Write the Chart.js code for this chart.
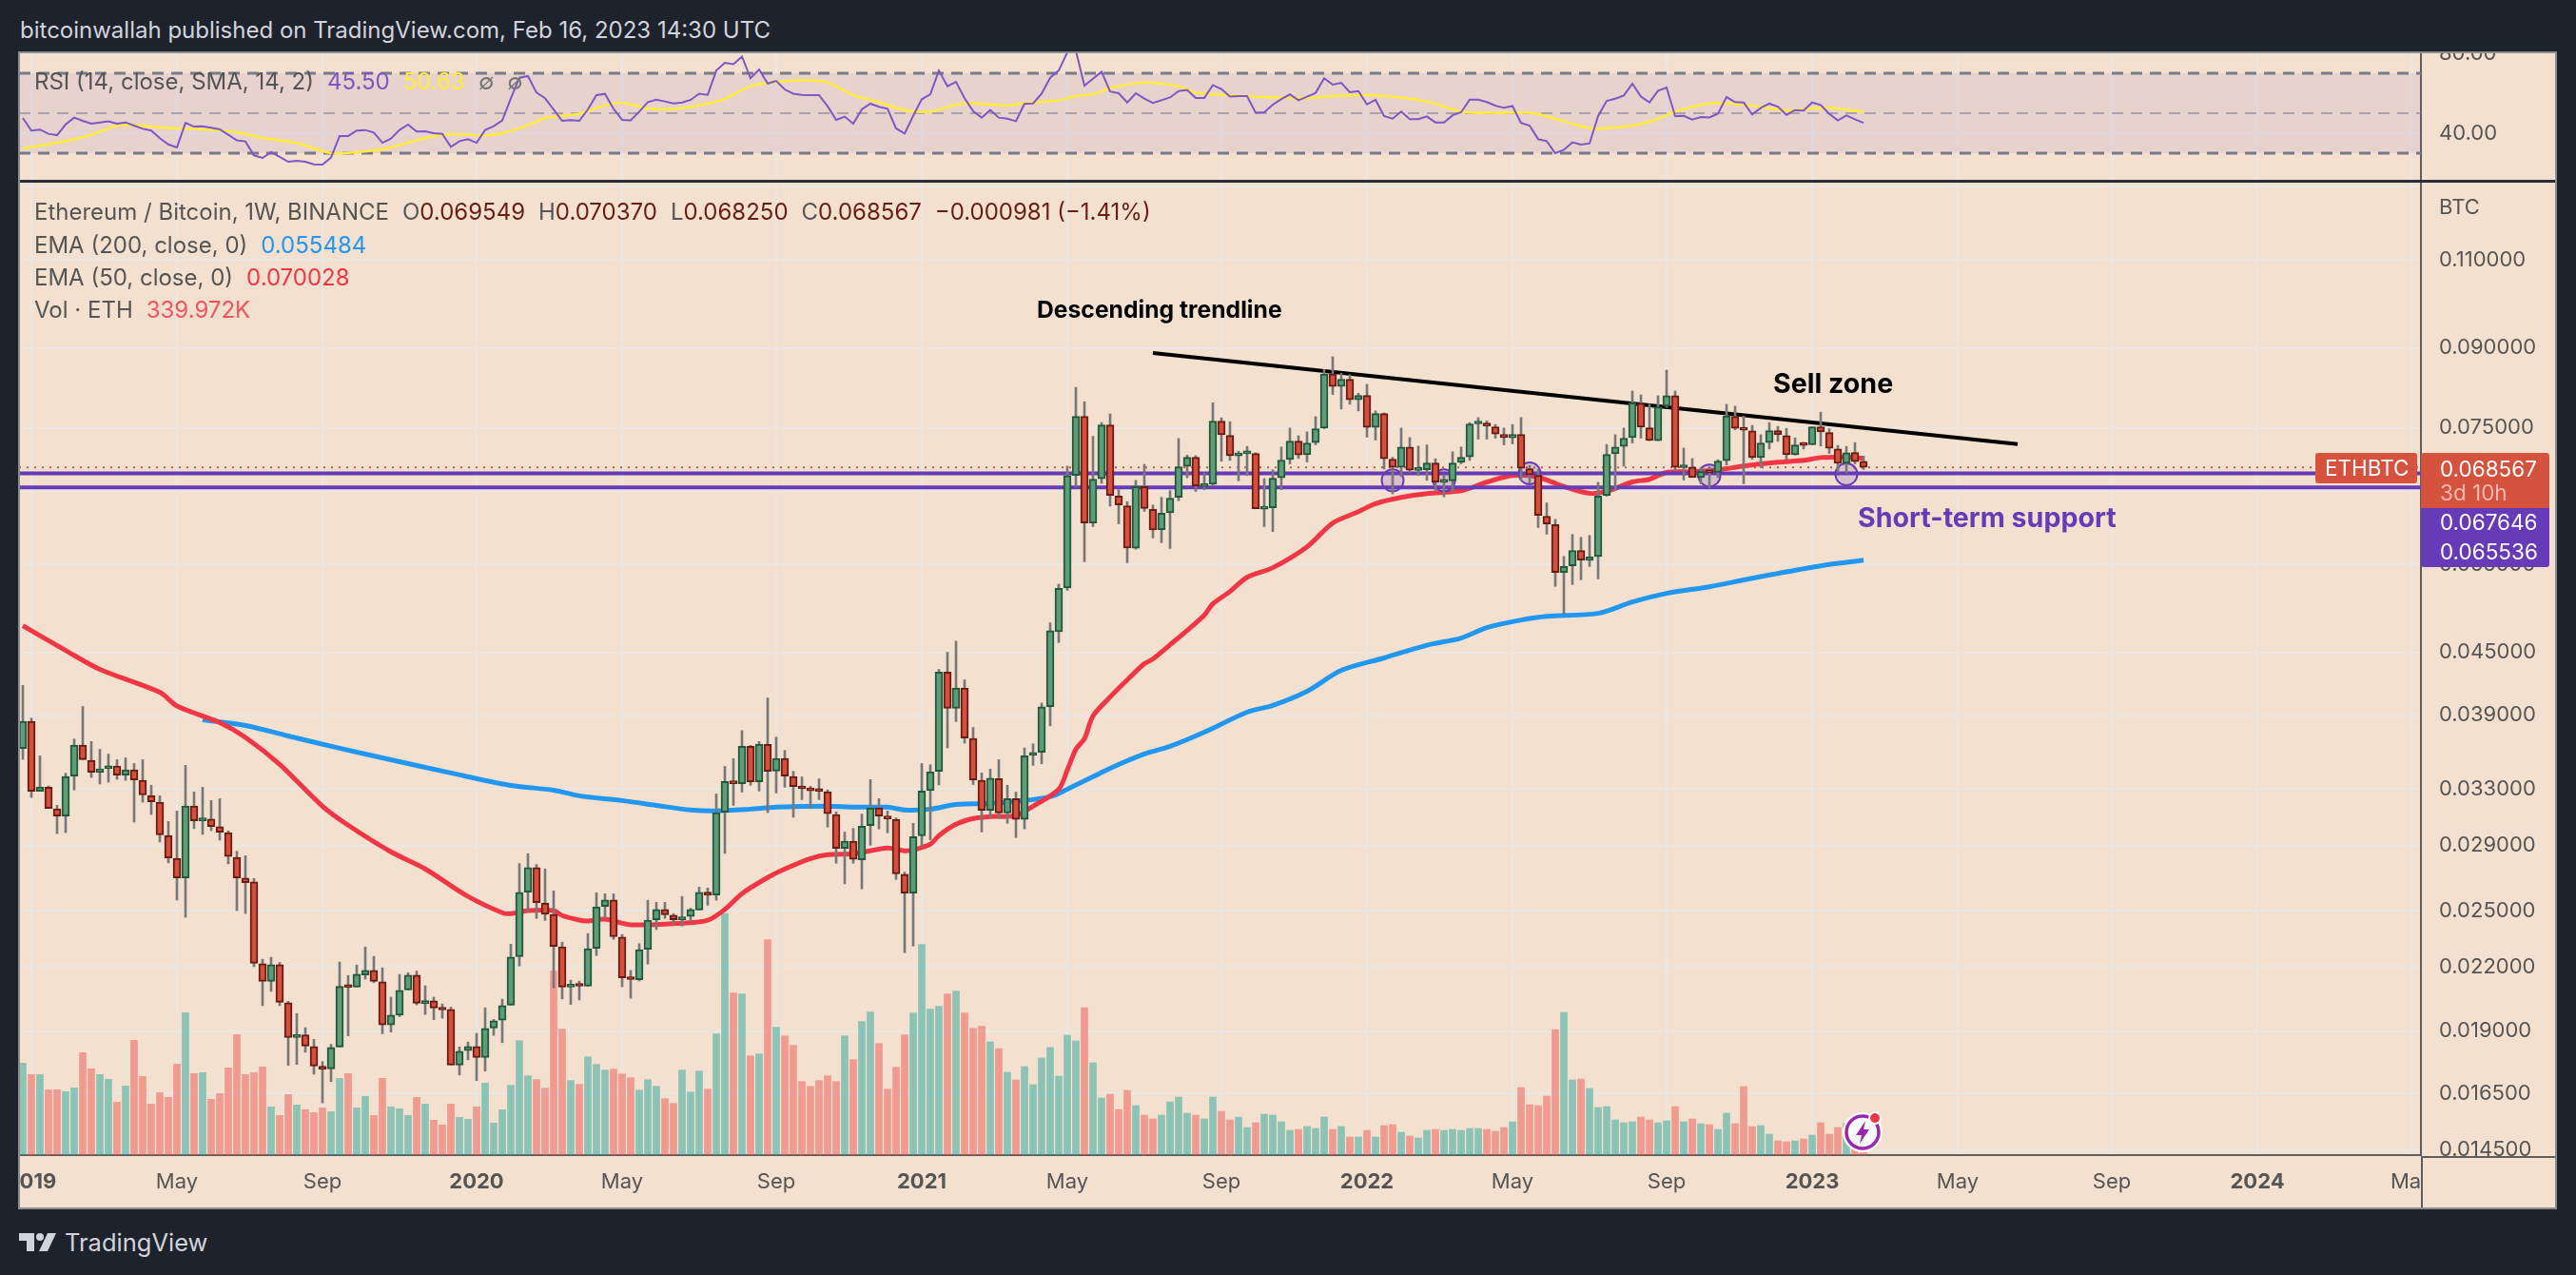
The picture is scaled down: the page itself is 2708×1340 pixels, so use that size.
<!DOCTYPE html>
<html>
<head>
<meta charset="utf-8">
<script src="https://cdn.jsdelivr.net/npm/chart.js@4"></script>
<style>
html, body { margin: 0; padding: 0; background: #1e222d; width: 2708px; height: 1340px; overflow: hidden; font-family: Inter, sans-serif; }
canvas { position: absolute; left: 20px; background: #f3e0cf; }
#rsiChart { top: 55px; }
#mainChart { top: 191px; }
.t { position: absolute; white-space: nowrap; line-height: 1; transform: translateY(-50%); }
.leg { font-size: 24px; color: #555; }
.leg span { margin-left: 14px; }
.frame { position: absolute; left: 19px; top: 54px; width: 2669px; height: 1217px; box-sizing: border-box; border: 2px solid #8c8c8c; pointer-events: none; }
.sep { position: absolute; left: 20px; top: 189px; width: 2667px; height: 3px; background: #2a2e39; }
.corner { position: absolute; left: 2545px; top: 1215px; width: 142px; height: 55px; background: #f3e0cf; border-left: 2px solid #5d5d5d; border-top: 2px solid #5d5d5d; box-sizing: border-box; }
.badge { position: absolute; color: #fff; font-size: 22.5px; box-sizing: border-box; }
.badge div { position: absolute; left: 20px; line-height: 1; transform: translateY(-50%); white-space: nowrap; }
</style>
</head>
<body>
<canvas id="rsiChart" width="2667" height="136"></canvas>
<canvas id="mainChart" width="2667" height="1079"></canvas>
<div class="sep"></div>
<div class="corner"></div>
<div class="frame"></div>

<div class="t" style="left:21px;top:32px;font-size:24px;color:#d1d4dc">bitcoinwallah published on TradingView.com, Feb 16, 2023 14:30 UTC</div>

<div class="t leg" style="left:36px;top:86px">RSI (14, close, SMA, 14, 2)<span style="color:#7e57c2">45.50</span><span style="color:#ffeb3b">50.63</span><span style="color:#777">∅</span><span style="color:#777">∅</span></div>
<div class="t leg" style="left:36px;top:223px">Ethereum / Bitcoin, 1W, BINANCE<span>O<b style="font-weight:400;color:#6a1d17">0.069549</b></span><span>H<b style="font-weight:400;color:#6a1d17">0.070370</b></span><span>L<b style="font-weight:400;color:#6a1d17">0.068250</b></span><span>C<b style="font-weight:400;color:#6a1d17">0.068567</b></span><span style="color:#6a1d17">−0.000981 (−1.41%)</span></div>
<div class="t leg" style="left:36px;top:258px">EMA (200, close, 0)<span style="color:#2196f3">0.055484</span></div>
<div class="t leg" style="left:36px;top:292px">EMA (50, close, 0)<span style="color:#f23645">0.070028</span></div>
<div class="t leg" style="left:36px;top:326px">Vol · ETH<span style="color:#f7525f">339.972K</span></div>

<div class="t" style="left:1090px;top:325px;font-size:24.7px;font-weight:700;color:#000">Descending trendline</div>
<div class="t" style="left:1864px;top:403px;font-size:28.6px;font-weight:700;color:#000">Sell zone</div>
<div class="t" style="left:1953px;top:544px;font-size:28.6px;font-weight:700;color:#673ab7">Short-term support</div>

<div class="t" style="left:2564px;top:217px;font-size:22px;color:#555">BTC</div>

<div class="badge" style="left:2434px;top:476px;width:107px;height:32px;background:#d5523f;border-radius:3px"><div style="left:10px;top:16px">ETHBTC</div></div>
<div class="badge" style="left:2545px;top:476px;width:135px;height:58px;background:#d5523f;border-radius:3px 3px 0 0"><div style="top:17px">0.068567</div><div style="top:42px;color:#f2b9ae">3d 10h</div></div>
<div class="badge" style="left:2545px;top:534px;width:135px;height:31px;background:#673ab7"><div style="top:15px">0.067646</div></div>
<div class="badge" style="left:2545px;top:565px;width:135px;height:31px;background:#673ab7;border-radius:0 0 3px 3px"><div style="top:15px">0.065536</div></div>

<svg style="position:absolute;left:1936px;top:1166px" width="46" height="46" viewBox="0 0 46 46">
  <circle cx="22" cy="24" r="21" fill="#fff"/>
  <circle cx="22" cy="24" r="17" fill="none" stroke="#9c27b0" stroke-width="3.5"/>
  <path d="M25 12 L15 27 H21 L19 36 L29 21 H23 Z" fill="#9c27b0"/>
  <circle cx="35" cy="9" r="7" fill="#fff"/>
  <circle cx="35" cy="9" r="5" fill="#f23645"/>
</svg>

<svg style="position:absolute;left:20px;top:1294px" width="40" height="24" viewBox="0 0 40 24">
  <path d="M0 2 H16 V21 H8 V10 H0 Z" fill="#d1d4dc"/>
  <circle cx="22" cy="6" r="4" fill="#d1d4dc"/>
  <path d="M30 2 H39 L30 21 H21 Z" fill="#d1d4dc"/>
</svg>
<div class="t" style="left:68px;top:1306px;font-size:25.5px;color:#d1d4dc">TradingView</div>

<script>
// weekly bars, index 0 = first bar on the left (Jan 2019)
const opens = [
  .03616,.03847,.03280,.03311,.03152,.03101,.03396,.03644,.03520,.03425,
  .03455,.03475,.03403,.03445,.03364,.03249,.03200,.02967,.02817,.02694,
  .03173,.03068,.03079,.03026,.02986,.02823,.02692,.02669,.02216,.02128,
  .02211,.02027,.01873,.01884,.01835,.01754,.01744,.01833,.02105,.02101,
  .02160,.02182,.02126,.01927,.01971,.02087,.02159,.02023,.02036,.02001,
  .01997,.01759,.01818,.01835,.01790,.01914,.01948,.02016,.02251,.02608,
  .02757,.02544,.02479,.02303,.02101,.02114,.02105,.02295,.02524,.02561,
  .02354,.02146,.02136,.02290,.02449,.02507,.02474,.02449,.02467,.02504,
  .02608,.02591,.03128,.03359,.03338,.03634,.03352,.03650,.03435,.03535,
  .03393,.03316,.03301,.03291,.03277,.03112,.02881,.02929,.02807,.03034,
  .03159,.03101,.03077,.02716,.02602,.02964,.03286,.03433,.04304,.03962,
  .04149,.03701,.03364,.03142,.03377,.03123,.03226,.03077,.03561,.03584,
  .03977,.04717,.05212,.06732,.07701,.06041,.06684,.07553,.06423,.06285,
  .05705,.06564,.06232,.05951,.06183,.06405,.06875,.07018,.06564,.06598,
  .07620,.07376,.07040,.07075,.07079,.06236,.06254,.06698,.06983,.07281,
  .07058,.07256,.07500,.08480,.08244,.08380,.07997,.08078,.07512,.07753,
  .06988,.06859,.07183,.06810,.06820,.06926,.06628,.06650,.06936,.07024,
  .07572,.07587,.07522,.07393,.07335,.07393,.06839,.06736,.06137,.06019,
  .05399,.05481,.05675,.05549,.05597,.06433,.07075,.07193,.07340,.07934,
  .07505,.07287,.07882,.08073,.06853,.06864,.06702,.06800,.06780,.06963,
  .07701,.07495,.07452,.07013,.07256,.07457,.07372,.07058,.07229,.07219,
  .07522,.07425,.07152,.06922,.07095,.06955
];
const highs = [
  .04175,.03875,.03556,.03321,.03177,.03418,.03695,.03979,.03674,.03610,
  .03571,.03525,.03540,.03495,.03525,.03326,.03247,.03063,.03137,.03480,
  .03275,.03311,.03212,.03226,.02998,.02862,.02833,.02690,.02238,.02248,
  .02222,.02034,.01978,.01915,.01865,.01773,.01844,.02224,.02157,.02209,
  .02302,.02253,.02195,.02053,.02162,.02170,.02179,.02107,.02053,.02022,
  .02007,.01833,.01854,.01891,.02004,.01952,.02044,.02316,.02783,.02846,
  .02777,.02749,.02615,.02327,.02134,.02130,.02373,.02604,.02598,.02598,
  .02368,.02182,.02319,.02560,.02548,.02548,.02483,.02582,.02514,.02638,
  .02632,.03261,.03472,.03533,.03767,.03642,.03674,.04057,.03711,.03601,
  .03433,.03390,.03318,.03374,.03291,.03130,.02989,.03015,.03115,.03369,
  .03226,.03137,.03088,.02729,.03050,.03495,.03485,.04330,.04502,.04617,
  .04228,.03794,.03420,.03450,.03525,.03326,.03275,.03621,.03655,.04011,
  .04814,.05257,.06878,.08227,.07963,.07360,.07594,.07747,.06517,.06345,
  .06659,.06904,.06295,.06405,.06503,.07324,.07053,.07044,.06765,.07946,
  .07677,.07610,.07116,.07193,.07090,.06684,.06820,.07183,.07500,.07370,
  .07436,.07698,.08570,.08822,.08498,.08467,.08120,.08285,.07798,.07764,
  .07018,.07500,.07340,.07199,.07219,.06994,.06746,.07105,.07183,.07594,
  .07682,.07626,.07561,.07500,.07561,.07682,.06889,.06830,.06326,.06093,
  .05601,.05886,.05849,.05874,.06628,.07224,.07388,.07500,.08160,.08090,
  .07917,.08073,.08557,.08160,.07167,.06998,.06853,.06864,.06978,.07917,
  .07883,.07708,.07545,.07388,.07594,.07530,.07495,.07335,.07260,.07522,
  .07776,.07490,.07209,.07193,.07256,.07037
];
const lows = [
  .03528,.03235,.03280,.03155,.02980,.02986,.03291,.03525,.03385,.03335,
  .03349,.03371,.03364,.03059,.03200,.03112,.02923,.02787,.02561,.02463,
  .03013,.02974,.02999,.02935,.02781,.02500,.02484,.02201,.02014,.02080,
  .02014,.01758,.01762,.01811,.01723,.01614,.01694,.01833,.01880,.02101,
  .02139,.02122,.01889,.01896,.01964,.02087,.02017,.01974,.01950,.01957,
  .01759,.01720,.01780,.01698,.01735,.01882,.01851,.02016,.02204,.02491,
  .02456,.02445,.02097,.02045,.02019,.02040,.02105,.02257,.02456,.02342,
  .02102,.02048,.02130,.02214,.02395,.02456,.02424,.02414,.02438,.02503,
  .02531,.02560,.02848,.03177,.03275,.03326,.03282,.03125,.03268,.03311,
  .03092,.03219,.03159,.03219,.03024,.02785,.02657,.02785,.02627,.02902,
  .03011,.02984,.02684,.02272,.02307,.02895,.02938,.03328,.03621,.03845,
  .03660,.03331,.02991,.03090,.03083,.03050,.02953,.03011,.03480,.03493,
  .03808,.04603,.05183,.06564,.05533,.05993,.06612,.06278,.06032,.05520,
  .05692,.06204,.05840,.05777,.05702,.06357,.06698,.06493,.06517,.06588,
  .06953,.06968,.06650,.06732,.06241,.05993,.05925,.06517,.06912,.06998,
  .06943,.07219,.07490,.08095,.07832,.07917,.07798,.07346,.07297,.06830,
  .06456,.06717,.06780,.06732,.06659,.06507,.06414,.06479,.06912,.06968,
  .07313,.07313,.07329,.07219,.07234,.06659,.06620,.05980,.05890,.05230,
  .04911,.05253,.05309,.05473,.05321,.06423,.06512,.06878,.07250,.07329,
  .07287,.07287,.07860,.06805,.06663,.06702,.06603,.06549,.06702,.06893,
  .07468,.06607,.06988,.06853,.07152,.07276,.06983,.07053,.07152,.07219,
  .07199,.07079,.06780,.06780,.06912,.06825
];
const closes = [
  .03847,.03280,.03313,.03155,.03101,.03393,.03644,.03525,.03425,.03452,
  .03475,.03403,.03445,.03367,.03253,.03203,.02970,.02819,.02694,.03173,
  .03068,.03081,.03028,.02989,.02828,.02694,.02665,.02218,.02128,.02211,
  .02029,.01873,.01885,.01837,.01755,.01742,.01831,.02104,.02099,.02163,
  .02182,.02128,.01927,.01971,.02085,.02159,.02025,.02037,.02003,.01994,
  .01759,.01815,.01835,.01790,.01912,.01946,.02014,.02250,.02606,.02757,
  .02546,.02479,.02305,.02101,.02114,.02105,.02293,.02522,.02561,.02356,
  .02146,.02137,.02288,.02447,.02507,.02476,.02449,.02465,.02507,.02606,
  .02589,.03125,.03355,.03338,.03634,.03353,.03652,.03433,.03535,.03396,
  .03316,.03299,.03284,.03280,.03117,.02881,.02929,.02809,.03030,.03159,
  .03101,.03081,.02718,.02602,.02959,.03282,.03430,.04304,.03962,.04149,
  .03703,.03367,.03142,.03380,.03123,.03226,.03077,.03556,.03581,.03977,
  .04728,.05208,.06732,.07701,.06041,.06678,.07553,.06433,.06295,.05709,
  .06564,.06245,.05947,.06178,.06395,.06868,.07018,.06574,.06598,.07620,
  .07388,.07044,.07085,.07095,.06241,.06254,.06692,.06973,.07281,.07053,
  .07250,.07490,.08480,.08244,.08380,.07997,.08078,.07512,.07753,.06994,
  .06859,.07183,.06815,.06830,.06926,.06631,.06650,.06926,.07018,.07572,
  .07594,.07530,.07399,.07340,.07393,.06844,.06746,.06147,.06028,.05399,
  .05473,.05675,.05553,.05593,.06423,.07064,.07183,.07329,.07946,.07517,
  .07292,.07871,.08073,.06859,.06875,.06702,.06795,.06775,.06958,.07708,
  .07495,.07463,.07013,.07250,.07457,.07388,.07058,.07219,.07209,.07522,
  .07436,.07163,.06922,.07090,.06949,.06857
];
// volume in thousands of ETH
const volumes = [
  2900,2540,2540,2060,2060,2000,2120,3230,2720,2540,
  2390,1670,2180,3620,2480,1610,1970,1820,2870,4490,
  2570,2600,1760,1940,2750,3800,2540,2600,2780,1520,
  1250,1910,1580,1430,1340,1490,1370,2420,2570,1490,
  1850,1250,2420,1520,1460,1250,1820,1610,1100,950,
  1610,1190,1130,1520,2270,1010,1430,2200,3610,2500,
  2380,2110,5800,3970,2350,2230,3100,2860,2680,2710,
  2560,2440,2050,2380,2170,1780,1630,2680,1990,2650,
  2080,3820,7620,5110,5080,3130,3190,6790,4030,3760,
  3460,2320,2170,2350,2500,2320,3760,3010,4210,4510,
  3520,2080,2770,3790,4480,6640,4600,4690,5080,5170,
  4480,4000,4060,3570,3360,2610,2370,2790,2220,3060,
  3390,2490,3780,3600,4650,2910,1800,1920,1440,2040,
  1560,1260,1140,1260,1680,1830,1320,1260,1140,1830,
  1380,1110,1200,870,1020,1290,1260,1050,780,810,
  900,840,1200,810,900,570,570,780,570,930,
  960,720,600,540,780,810,780,810,780,840,
  840,810,750,870,1050,2130,1590,1560,1860,3960,
  4500,2370,2400,2100,1500,1530,1110,1020,1050,1200,
  1110,1020,1080,1530,1050,1140,990,960,810,1320,
  990,2160,900,930,660,450,420,450,510,630,
  1020,660,870,1000,800,340
];
const rsiValues = [
  47.6,41.3,41.8,39.7,39.0,44.4,47.8,46.2,44.8,45.4,
  45.9,44.8,45.4,43.8,42.2,41.3,37.5,34.4,32.9,45.2,
  43.3,43.5,42.7,41.9,39.2,36.4,35.9,28.9,27.6,30.5,
  28.1,25.7,26.2,25.7,24.4,24.3,27.8,38.6,38.6,41.3,
  41.6,40.3,35.2,37.3,41.6,44.3,40.8,40.9,40.0,39.7,
  33.2,36.0,37.0,35.2,41.6,43.5,46.4,57.5,67.8,68.6,
  60.3,57.5,51.9,46.2,46.5,46.2,51.9,59.1,59.7,52.2,
  46.7,46.4,50.8,55.6,56.8,55.9,54.9,55.4,56.7,59.8,
  59.2,71.4,75.2,74.6,78.4,67.5,71.9,64.9,66.2,61.9,
  59.8,59.2,59.1,59.1,53.5,46.7,48.3,44.8,
  51.9,54.8,53.2,52.2,42.4,39.8,48.7,57.0,59.5,71.4,
  63.5,65.7,57.5,51.1,47.8,51.6,47.8,47.3,46.0,54.8,
  54.9,59.8,67.8,71.4,80.5,81.3,63.8,67.3,70.8,60.9,
  60.0,55.4,60.0,57.3,55.2,56.5,57.9,61.1,61.7,57.6,
  57.6,64.1,62.1,58.3,58.6,58.6,50.3,50.5,54.3,57.1,
  59.4,56.5,58.3,60.2,67.5,64.3,65.2,60.5,61.1,54.4,
  56.7,48.6,47.3,50.8,47.0,47.0,48.4,45.4,45.4,49.0,
  50.5,56.8,56.8,55.6,53.8,52.7,53.6,45.2,43.8,37.0,
  36.0,30.0,31.7,35.4,34.3,34.9,48.6,56.2,57.3,58.9,
  64.8,58.3,55.4,61.3,62.9,48.6,48.7,46.8,48.1,47.9,
  49.8,58.1,55.6,55.4,49.4,52.7,54.8,53.3,49.2,51.6,
  51.3,55.4,54.1,49.7,46.4,48.9,47.0,45.2
];
// the smooth lines are read at a handful of bars
const smaBars = [0,4,8,11,13,16,20,25,28,32,36,39,43,47,50,54,56,59,61,65,68,70,73,76,80,82,85,88,92,94,97,100,103,106,109,111,115,117,121,123,125,127,131,135,137,141,145,150,153,158,164,168,171,176,179,183,187,190,193,197,201,206,209,211,215];
const smaValues = [32.4,35.2,39.2,43.8,44.0,42.9,42.2,40.5,37.6,35.1,30.0,30.5,32.9,37.6,39.5,38.9,40.0,44.0,47.6,49.8,54.0,55.1,52.4,52.1,54.8,57.2,63.5,65.7,66.5,65.4,59.1,55.6,51.6,50.8,54.3,54.9,53.8,55.1,56.4,58.7,59.4,62.6,65.4,63.5,60.3,59.1,58.1,57.6,58.6,58.9,55.9,50.8,50.2,50.2,47.3,42.5,43.2,45.7,50.8,54.9,54.3,51.4,52.4,52.7,50.8];
const ema50Bars = [0,5,9,16,18,23,26,30,35,38,43,47,52,56,57,59,62,63,65,66,68,71,77,80,82,84,87,89,92,94,97,101,103,104,106,107,109,111,113,116,118,121,122,123,124,125,127,129,131,132,134,136,138,139,141,143,146,150,153,156,158,161,164,168,171,174,177,180,183,185,188,190,192,195,198,201,205,208,210,213,215];
const ema50Values = [.04783,.04521,.04330,.04110,.03983,.03836,.03709,.03488,.03171,.03037,.02858,.02749,.02582,.02488,.02483,.02500,.02500,.02472,.02447,.02442,.02452,.02421,.02430,.02446,.02507,.02599,.02696,.02749,.02815,.02840,.02846,.02883,.02865,.02871,.02908,.02966,.03043,.03083,.03097,.03104,.03171,.03296,.03443,.03610,.03698,.03894,.04066,.04228,.04386,.04434,.04580,.04731,.04898,.05026,.05170,.05340,.05458,.05723,.06041,.06200,.06315,.06405,.06461,.06502,.06631,.06732,.06707,.06564,.06465,.06493,.06634,.06674,.06780,.06790,.06820,.06878,.06938,.06968,.07013,.07018,.07002];
const ema200Bars = [21,26,31,37,43,50,57,62,65,70,74,78,81,85,88,94,97,101,103,106,109,113,116,120,122,125,127,131,134,138,143,146,150,154,159,164,168,171,175,178,184,188,192,197,201,205,210,215];
const ema200Values = [.03860,.03811,.03721,.03618,.03525,.03420,.03325,.03289,.03247,.03212,.03177,.03144,.03137,.03150,.03164,.03171,.03164,.03164,.03144,.03150,.03184,.03191,.03205,.03240,.03296,.03391,.03457,.03571,.03634,.03753,.03928,.03988,.04119,.04320,.04444,.04575,.04650,.04762,.04845,.04886,.04919,.05048,.05148,.05226,.05307,.05387,.05481,.05551];

const priceTicks = [.13,.11,.09,.075,.065,.055,.045,.039,.033,.029,.025,.022,.019,.0165,.0145];
const rsiTicks = [80,40];
const rsiLevels = [70,50,30];
const timeBars = [1,18,35,53,70,88,105,122,140,157,174,192,209,226,244,261,279];
const timeLabels = ["2019","May","Sep","2020","May","Sep","2021","May","Sep","2022","May","Sep","2023","May","Sep","2024","May"];

const lastPrice = 0.068567;
const supportLevels = [0.067646, 0.065536];
const trendBars = [132, 233];
const trendValues = [.08899, .0723];
const touchBars = [160,166,176,197,213];
const touchValues = [.06659,.06659,.06765,.06732,.06751];

// visible bar range and price range of the panes
const xMin = -0.444, xMax = 280.11;
const priceMin = 0.01433, priceMax = 0.1314;
const rsiMin = 15.7, rsiMax = 80.5;
const volumeMax = 30690;

const gridColor = "#e9e6e3";
const axisColor = "#5d5d5d";
const textColor = "#555";

const bars = closes.map((_, i) => i);
const isUp = (i) => closes[i] >= opens[i];
const pairs = (xs, ys) => xs.map((x, i) => ({ x: x, y: ys[i] }));
const level = (v) => [{ x: xMin, y: v }, { x: xMax, y: v }];

function zeroPadding(axis) {
    axis.paddingLeft = axis.paddingRight = axis.paddingTop = axis.paddingBottom = 0;
}

function xAxis(withLabels) {
    return {
        type: "linear",
        min: xMin,
        max: xMax,
        offset: false,
        afterBuildTicks: (axis) => { axis.ticks = timeBars.map((b) => ({ value: b })); },
        afterFit: (axis) => { axis.height = withLabels ? 56 : 0; zeroPadding(axis); },
        grid: { color: gridColor, lineWidth: 2, drawTicks: false, offset: false },
        border: { display: withLabels, color: axisColor, width: 2 },
        ticks: {
            display: withLabels,
            autoSkip: false,
            maxRotation: 0,
            padding: 15,
            color: textColor,
            font: (ctx) => ({ family: "Inter", size: 22, weight: /^\d/.test(timeLabels[ctx.index]) ? "700" : "400" }),
            callback: (v, i) => timeLabels[i],
        },
    };
}

function yTicks(format) {
    return {
        autoSkip: false,
        crossAlign: "near",
        padding: 19,
        color: textColor,
        font: { family: "Inter", size: 22 },
        callback: format,
    };
}

function lineSet(data, color, width, order, extra) {
    return Object.assign({
        type: "line", data: data, borderColor: color, borderWidth: width, order: order,
        pointRadius: 0, fill: false, tension: 0,
    }, extra);
}

new Chart(document.getElementById("rsiChart"), {
    type: "line",
    data: {
        datasets: [
            lineSet(pairs(bars, rsiValues), "#7e57c2", 2, 1),
            lineSet(pairs(smaBars, smaValues), "#ffeb3b", 2.5, 2, { tension: 0.3 }),
            lineSet(level(rsiLevels[0]), "#787b86", 3, 3, { borderDash: [12, 8], fill: "+2", backgroundColor: "rgba(126,87,194,0.1)" }),
            lineSet(level(rsiLevels[1]), "rgba(120,123,134,0.55)", 2, 3, { borderDash: [12, 8] }),
            lineSet(level(rsiLevels[2]), "#787b86", 3, 3, { borderDash: [12, 8] }),
        ],
    },
    options: {
        responsive: false,
        animation: false,
        devicePixelRatio: 1,
        events: [],
        layout: { padding: 0, autoPadding: false },
        plugins: { legend: { display: false }, tooltip: { enabled: false } },
        scales: {
            x: xAxis(false),
            y: {
                position: "right",
                min: rsiMin,
                max: rsiMax,
                afterBuildTicks: (axis) => { axis.ticks = rsiTicks.map((v) => ({ value: v })); },
                afterFit: (axis) => { axis.width = 142; zeroPadding(axis); },
                grid: { color: gridColor, lineWidth: 2, drawTicks: false },
                border: { color: axisColor, width: 2 },
                ticks: yTicks((v) => v.toFixed(2)),
            },
        },
    },
});

new Chart(document.getElementById("mainChart"), {
    type: "bar",
    data: {
        datasets: [
            {
                type: "bar", order: 20, yAxisID: "yVol", grouped: false, barThickness: 7,
                data: pairs(bars, volumes),
                backgroundColor: (ctx) => isUp(ctx.dataIndex) ? "rgba(38,166,154,0.5)" : "rgba(239,83,80,0.5)",
            },
            lineSet(pairs(ema200Bars, ema200Values), "#2196f3", 5, 16, { tension: 0.3 }),
            lineSet(pairs(ema50Bars, ema50Values), "#f23645", 5, 15, { tension: 0.3 }),
            lineSet(level(supportLevels[0]), "#673ab7", 4, 14),
            lineSet(level(supportLevels[1]), "#673ab7", 4, 14),
            lineSet(level(lastPrice), "#d5523f", 2, 13, { borderDash: [2, 6] }),
            lineSet(pairs(trendBars, trendValues), "#000", 4, 12),
            {
                type: "bubble", order: 11,
                data: touchBars.map((b, i) => ({ x: b, y: touchValues[i], r: 11.5 })),
                backgroundColor: "rgba(103,58,183,0.2)", borderColor: "#673ab7", borderWidth: 2,
            },
            {
                type: "bar", order: 10, grouped: false, barThickness: 2,
                data: bars.map((i) => ({ x: i, y: [lows[i], highs[i]] })),
                backgroundColor: "#787878",
            },
            {
                type: "bar", order: 9, grouped: false, barThickness: 8, minBarLength: 3,
                data: bars.map((i) => ({ x: i, y: [opens[i], closes[i]] })),
                backgroundColor: (ctx) => isUp(ctx.dataIndex) ? "#5e9c7a" : "#d5503c",
                borderColor: (ctx) => isUp(ctx.dataIndex) ? "#1f5a3b" : "#6a1b14",
                borderWidth: 2,
                borderSkipped: false,
            },
        ],
    },
    options: {
        responsive: false,
        animation: false,
        devicePixelRatio: 1,
        events: [],
        layout: { padding: 0, autoPadding: false },
        plugins: { legend: { display: false }, tooltip: { enabled: false } },
        scales: {
            x: xAxis(true),
            y: {
                type: "logarithmic",
                position: "right",
                min: priceMin,
                max: priceMax,
                bounds: "data",
                afterBuildTicks: (axis) => { axis.ticks = priceTicks.map((v) => ({ value: v })); },
                afterFit: (axis) => { axis.width = 142; zeroPadding(axis); },
                grid: { color: gridColor, lineWidth: 2, drawTicks: false },
                border: { color: axisColor, width: 2 },
                ticks: yTicks((v) => v === 0.13 ? "" : v.toFixed(6)),
            },
            yVol: {
                type: "linear",
                display: false,
                min: 0,
                max: volumeMax,
                ticks: { display: false },
                grid: { display: false },
                afterFit: (axis) => { axis.width = 0; zeroPadding(axis); },
            },
        },
    },
});
</script>
</body>
</html>
